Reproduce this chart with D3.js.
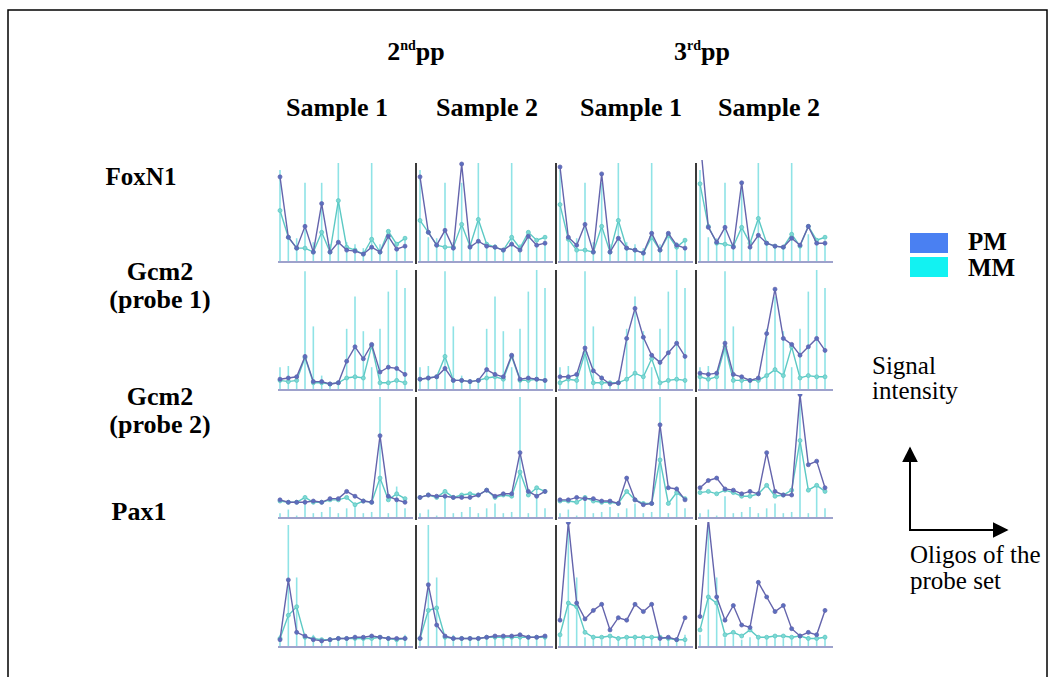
<!DOCTYPE html>
<html>
<head>
<meta charset="utf-8">
<script src="https://cdn.jsdelivr.net/npm/d3@7"></script>
<style>
  body { margin: 0; background: #fff; }
  text { font-family: "Liberation Serif", "Times New Roman", serif; }
</style>
</head>
<body>
<div id="chart"></div>
<script>
// data: signal per oligo (16 oligos), as % of the panel's intensity range
var genes = ["FoxN1", "Gcm2 (probe 1)", "Gcm2 (probe 2)", "Pax1"];
var samples = ["2nd pp S1", "2nd pp S2", "3rd pp S1", "3rd pp S2"];
var oligos = d3.range(1, 17);

// PM series, one array per gene x sample
var pmFoxN1 = [
  [86, 25, 14, 36, 10, 59, 10, 20, 12, 11, 8, 15, 10, 26, 13, 16],
  [86, 30, 17, 32, 14, 99, 15, 21, 16, 15, 12, 18, 12, 26, 17, 19],
  [96, 25, 17, 38, 10, 89, 10, 24, 14, 12, 9, 29, 12, 29, 17, 14],
  [125, 35, 20, 35, 15, 80, 15, 27, 19, 16, 15, 24, 17, 36, 19, 19]
];
var mmFoxN1 = [
  [52, 25, 14, 14, 10, 30, 10, 62, 15, 12, 8, 23, 10, 31, 18, 24],
  [42, 30, 17, 15, 15, 38, 16, 43, 18, 15, 12, 25, 14, 30, 22, 25],
  [58, 23, 12, 12, 10, 36, 10, 42, 14, 12, 9, 25, 12, 27, 15, 22],
  [79, 36, 19, 18, 16, 35, 19, 44, 19, 16, 15, 28, 16, 36, 22, 25]
];
var pmGcm2a = [
  [9, 10, 11, 28, 7, 7, 5, 6, 24, 36, 26, 38, 15, 19, 18, 13],
  [9, 10, 11, 18, 8, 8, 7, 8, 17, 13, 11, 29, 9, 10, 9, 8],
  [11, 11, 13, 35, 16, 10, 5, 6, 43, 68, 44, 29, 23, 31, 39, 28],
  [14, 13, 14, 39, 13, 11, 8, 10, 47, 84, 43, 38, 29, 36, 43, 33]
];
var mmGcm2a = [
  [8, 7, 8, 27, 6, 6, 5, 6, 10, 11, 10, 37, 6, 6, 8, 6],
  [9, 10, 11, 28, 8, 8, 7, 8, 10, 11, 9, 28, 8, 8, 9, 8],
  [6, 9, 8, 31, 6, 6, 6, 6, 9, 14, 11, 26, 6, 8, 9, 8],
  [11, 9, 11, 36, 8, 8, 8, 8, 12, 17, 12, 36, 10, 12, 11, 11]
];
var pmGcm2b = [
  [15, 13, 13, 13, 14, 13, 16, 16, 22, 18, 14, 13, 68, 18, 15, 13],
  [17, 19, 18, 18, 17, 17, 17, 19, 23, 18, 20, 20, 54, 22, 18, 22],
  [15, 15, 17, 16, 16, 14, 14, 12, 33, 15, 11, 12, 77, 25, 24, 15],
  [25, 31, 33, 24, 23, 20, 22, 20, 54, 22, 19, 19, 102, 44, 47, 25]
];
var mmGcm2b = [
  [14, 13, 13, 17, 13, 13, 15, 15, 17, 11, 14, 13, 33, 15, 20, 16],
  [17, 19, 17, 22, 17, 19, 20, 19, 23, 17, 19, 18, 38, 19, 25, 22],
  [14, 14, 13, 17, 14, 13, 13, 12, 22, 15, 12, 12, 48, 12, 21, 16],
  [21, 22, 20, 23, 21, 18, 18, 20, 27, 18, 19, 23, 64, 23, 27, 22]
];
var pmPax1 = [
  [6, 55, 12, 9, 6, 5, 6, 7, 7, 8, 8, 9, 8, 7, 7, 7],
  [7, 51, 18, 9, 7, 7, 7, 7, 8, 9, 9, 9, 10, 8, 8, 9],
  [22, 102, 36, 23, 30, 35, 14, 24, 22, 35, 29, 35, 7, 8, 6, 24],
  [25, 105, 41, 22, 34, 18, 16, 53, 41, 29, 34, 15, 9, 12, 10, 30]
];
var mmPax1 = [
  [7, 26, 33, 8, 7, 6, 6, 7, 7, 7, 7, 7, 8, 7, 6, 7],
  [7, 30, 32, 8, 7, 7, 7, 7, 8, 8, 8, 8, 8, 8, 8, 8],
  [10, 36, 33, 12, 8, 8, 9, 7, 8, 8, 8, 8, 8, 7, 6, 6],
  [14, 41, 36, 10, 12, 9, 14, 8, 8, 9, 9, 8, 9, 7, 7, 8]
];
var pmSeries = [pmFoxN1, pmGcm2a, pmGcm2b, pmPax1];
var mmSeries = [mmFoxN1, mmGcm2a, mmGcm2b, mmPax1];

// background bars per gene (same for every sample)
var barFoxN1 = [93, 25, 24, 80, 20, 80, 18, 100, 20, 18, 14, 100, 18, 28, 20, 22];
var barGcm2a = [19, 20, 12, 99, 53, 12, 6, 7, 51, 78, 49, 19, 51, 82, 100, 85];
var barGcm2b = [4, 7, 2, 18, 4, 5, 9, 4, 8, 12, 4, 5, 100, 4, 26, 8];
var barPax1 = [10, 100, 57, 8, 10, 6, 8, 9, 8, 10, 7, 8, 8, 9, 8, 10];
var barSeries = [barFoxN1, barGcm2a, barGcm2b, barPax1];

var colLeft = [276, 416, 556, 696];
var rowBox = [[163, 262], [270, 390], [397, 518], [525, 647]];

var svg = d3.select("#chart")
    .append("svg")
    .attr("width", 1050)
    .attr("height", 677);

// outer frame
svg.append("rect")
    .attr("x", 8).attr("y", 10)
    .attr("width", 1039).attr("height", 700)
    .attr("fill", "none")
    .attr("stroke", "black")
    .attr("stroke-width", 1.5);

var defs = svg.append("defs");

// headers
function sup(main, s, rest, x, y) {
    var tx = svg.append("text")
        .attr("x", x).attr("y", y)
        .attr("text-anchor", "middle")
        .style("font-weight", "bold")
        .style("font-size", "26px");
    tx.append("tspan").text(main);
    tx.append("tspan").text(s).attr("dy", -10).style("font-size", "14px");
    tx.append("tspan").text(rest).attr("dy", 10);
}
sup("2", "nd", "pp", 416, 60);
sup("3", "rd", "pp", 702, 60);

var sampleNames = ["Sample 1", "Sample 2", "Sample 1", "Sample 2"];
var sampleX = [337, 487, 631, 769];
sampleNames.forEach(function(s, i) {
    svg.append("text")
        .attr("x", sampleX[i]).attr("y", 116)
        .attr("text-anchor", "middle")
        .style("font-weight", "bold")
        .style("font-size", "26px")
        .text(s);
});

var rowLabels = [["FoxN1"], ["Gcm2", "(probe 1)"], ["Gcm2", "(probe 2)"], ["Pax1"]];
var rowLabelY = [185, 280, 405, 520];
var rowLabelX = [141, 160, 160, 139];
var rowLabelSize = [25, 26, 26, 26];
rowLabels.forEach(function(lines, r) {
    lines.forEach(function(l, k) {
        svg.append("text")
            .attr("x", rowLabelX[r]).attr("y", rowLabelY[r] + k * 28)
            .attr("text-anchor", "middle")
            .style("font-weight", "bold")
            .style("font-size", rowLabelSize[r] + "px")
            .text(l);
    });
});

// panels
var x = d3.scalePoint().domain(oligos);

genes.forEach(function(g, r) {
    var top = rowBox[r][0], bottom = rowBox[r][1];
    var y = d3.scaleLinear().domain([0, 100]).range([bottom, top]);

    samples.forEach(function(s, c) {
        var L = colLeft[c];
        x.range([L + 4, L + 129]);
        var id = "clip" + r + "_" + c;
        defs.append("clipPath").attr("id", id)
            .append("rect")
            .attr("x", L).attr("y", top - 3)
            .attr("width", 140).attr("height", bottom - top + 3);

        var g2 = svg.append("g").attr("clip-path", "url(#" + id + ")");

        g2.selectAll("line.bar")
            .data(barSeries[r])
            .enter()
            .append("line")
            .attr("x1", function(d, i) { return x(oligos[i]); })
            .attr("x2", function(d, i) { return x(oligos[i]); })
            .attr("y1", y(0))
            .attr("y2", function(d) { return y(d); })
            .attr("stroke", "#8fe3e6")
            .attr("stroke-width", 1.6);

        var line = d3.line()
            .x(function(d, i) { return x(oligos[i]); })
            .y(function(d) { return y(d); });

        [[mmSeries[r][c], "#5cc9c4", "#7fd8d4"], [pmSeries[r][c], "#6464ac", "#5a6fc0"]].forEach(function(ser) {
            g2.append("path")
                .datum(ser[0])
                .attr("d", line)
                .attr("fill", "none")
                .attr("stroke", ser[1])
                .attr("stroke-width", 1.4);
            g2.selectAll(null)
                .data(ser[0])
                .enter()
                .append("circle")
                .attr("cx", function(d, i) { return x(oligos[i]); })
                .attr("cy", function(d) { return y(d); })
                .attr("r", 2)
                .attr("fill", ser[2])
                .attr("stroke", ser[1])
                .attr("stroke-width", 0.8);
        });

        // bottom axis line
        svg.append("line")
            .attr("x1", L + 2).attr("x2", L + 137)
            .attr("y1", bottom).attr("y2", bottom)
            .attr("stroke", "#9ea2cc")
            .attr("stroke-width", 2);

        // panel separator
        if (c > 0) {
            svg.append("line")
                .attr("x1", L).attr("x2", L)
                .attr("y1", top).attr("y2", bottom + 2)
                .attr("stroke", "#3a3a3a")
                .attr("stroke-width", 2);
        }
    });
});

// legend
var legend = [["PM", "#4a80f2"], ["MM", "#12f2f2"]];
legend.forEach(function(d, i) {
    svg.append("rect")
        .attr("x", 910).attr("y", 233 + i * 24)
        .attr("width", 38).attr("height", 20)
        .attr("fill", d[1]);
    svg.append("text")
        .attr("x", 968).attr("y", 250 + i * 26)
        .style("font-weight", "bold")
        .style("font-size", "25px")
        .text(d[0]);
});

svg.append("text").attr("x", 872).attr("y", 374).style("font-size", "25px").text("Signal");
svg.append("text").attr("x", 872).attr("y", 399).style("font-size", "25px").text("intensity");

// axes arrows
defs.append("marker")
    .attr("id", "arr")
    .attr("viewBox", "0 0 10 10")
    .attr("refX", 9).attr("refY", 5)
    .attr("markerWidth", 16).attr("markerHeight", 16)
    .attr("markerUnits", "userSpaceOnUse")
    .attr("orient", "auto")
    .append("path")
    .attr("d", "M0,0 L10,5 L0,10 Z")
    .attr("fill", "black");
svg.append("line")
    .attr("x1", 910).attr("y1", 531).attr("x2", 910).attr("y2", 448)
    .attr("stroke", "black").attr("stroke-width", 2)
    .attr("marker-end", "url(#arr)");
svg.append("line")
    .attr("x1", 909).attr("y1", 530).attr("x2", 1007).attr("y2", 530)
    .attr("stroke", "black").attr("stroke-width", 2)
    .attr("marker-end", "url(#arr)");

svg.append("text").attr("x", 910).attr("y", 563).style("font-size", "25px").text("Oligos of the");
svg.append("text").attr("x", 910).attr("y", 589).style("font-size", "25px").text("probe set");
</script>
</body>
</html>
